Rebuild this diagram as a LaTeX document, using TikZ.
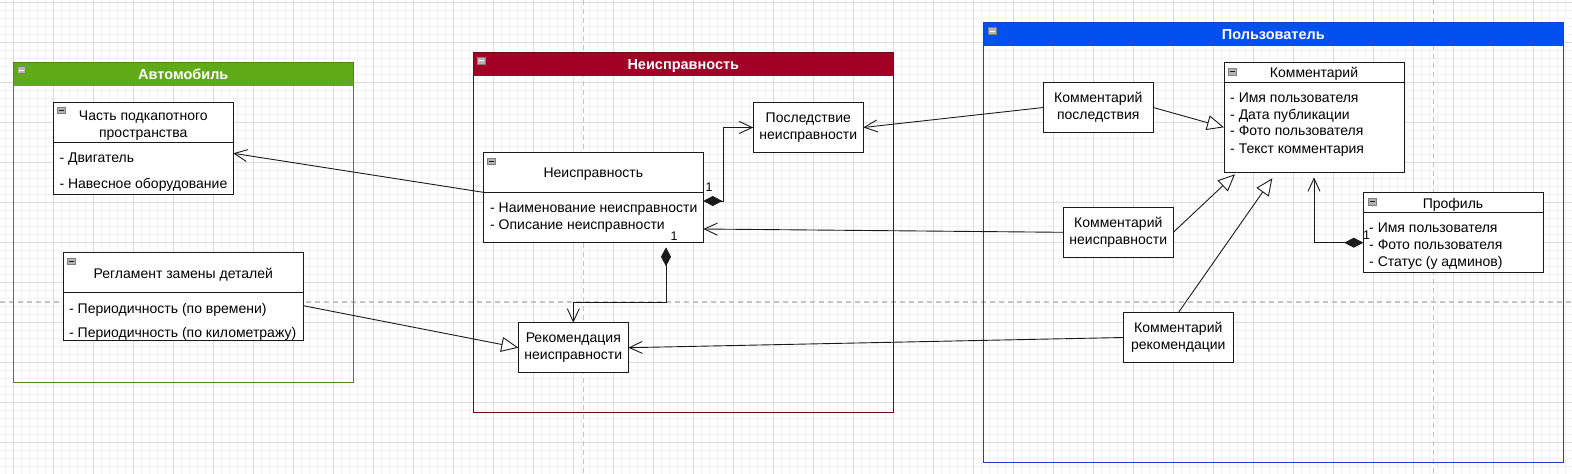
\documentclass[tikz,border=0pt]{standalone}
\usepackage{fontspec}
\setmainfont{Liberation Sans}
\usetikzlibrary{arrows.meta}
\definecolor{gmaj}{HTML}{DCDCDC}
\definecolor{gmin}{HTML}{F2F2F2}
\definecolor{pgbrk}{HTML}{C4C4C4}
\definecolor{cgreen}{HTML}{60A917}
\definecolor{cgreenb}{HTML}{4A8A12}
\definecolor{cred}{HTML}{A20025}
\definecolor{credb}{HTML}{6F0A0A}
\definecolor{cblue}{HTML}{0050EF}
\definecolor{cblueb}{HTML}{1F3FC0}
\definecolor{ink}{HTML}{1A1A1A}
\definecolor{icofill}{HTML}{B4B4B4}
\definecolor{icodraw}{HTML}{808080}
\begin{document}
\begin{tikzpicture}[x=1pt,y=-1pt,
  font=\fontsize{14pt}{16.7pt}\selectfont,
  cls/.style={draw=ink, fill=white, line width=1pt, anchor=north west, inner sep=0pt, outer sep=0pt},
  sbox/.style={draw=ink, fill=white, line width=1pt, inner sep=0pt, outer sep=0pt, align=center, minimum width=110pt, minimum height=50pt},
  ttl/.style={anchor=base, inner sep=0pt},
  attr/.style={anchor=base west, inner sep=0pt},
  htxt/.style={anchor=base, inner sep=0pt, text=white, font=\fontsize{14.5pt}{16.7pt}\selectfont\bfseries},
  conn/.style={draw=ink, line width=0.9pt},
  opn/.style={conn, -{Straight Barb[length=13pt,width=12pt]}},
  gen/.style={conn, -{Triangle[length=17pt,width=15pt,fill=white]}},
  comp/.style={conn, {Diamond[length=19pt,width=10pt]}-{Straight Barb[length=13pt,width=12pt]}},
  mult/.style={inner sep=0.6pt, fill=white, font=\fontsize{12.5pt}{14pt}\selectfont},
  ico/.style={fill=icofill, draw=icodraw, line width=0.6pt}
]
\clip (0,0) rectangle (1572,474);
\fill[white] (0,0) rectangle (1572,474);
% grid
\begin{scope}[shift={(13.3,2.5)}]
  \draw[gmin, line width=0.6pt, step=8pt] (-48,520) grid (1600,-48);
  \draw[gmaj, line width=0.8pt, step=40pt] (-40,520) grid (1600,-40);
\end{scope}
% page breaks
\draw[pgbrk, line width=1.2pt, dash pattern=on 5pt off 4pt] (583.3,0) -- (583.3,474);
\draw[pgbrk, line width=1.2pt, dash pattern=on 5pt off 4pt] (1433.3,0) -- (1433.3,474);
\draw[pgbrk, line width=1.2pt, dash pattern=on 5pt off 4pt] (0,302) -- (1572,302);

% containers
\fill[cgreen] (13.3,62.3) rectangle (353.3,85.7);
\draw[cgreenb, line width=1pt] (13.3,62.3) rectangle (353.3,382.3);
\node[htxt] (hAuto) at (183.3,79) {Автомобиль};
\draw[ico] (17.5,66.5) rectangle (25.5,73.5);
\draw[white, line width=1pt] (19,70) -- (24,70);

\fill[cred] (473.3,52.3) rectangle (893.3,76);
\draw[credb, line width=1pt] (473.3,52.3) rectangle (893.3,412.7);
\node[htxt] (hNeisp) at (683.3,69) {Неисправность};
\draw[ico] (477.5,57) rectangle (485.5,64);
\draw[white, line width=1pt] (479,60.5) -- (484,60.5);

\fill[cblue] (983.4,22.3) rectangle (1563.3,46);
\draw[cblueb, line width=1pt] (983.4,22.3) rectangle (1563.3,462.7);
\node[htxt] (hPolz) at (1273.3,39) {Пользователь};
\draw[ico] (988,27.5) rectangle (996,34.5);
\draw[white, line width=1pt] (989.5,31) -- (994.5,31);

% class: Часть подкапотного пространства
\node[cls, minimum width=180pt, minimum height=92pt] (chast) at (53.3,102.3) {};
\draw[ink, line width=1pt] (chast.west |- 0,142.7) -- (chast.east |- 0,142.7);
\node[ttl] (chastT1) at (143.3,120.3) {Часть подкапотного};
\node[ttl] (chastT2) at (143.3,137.3) {пространства};
\node[attr] (chastA1) at (59.3,162.7) {- Двигатель};
\node[attr] (chastA2) at (59.3,188.3) {- Навесное оборудование};
\draw[ico] (57.5,107) rectangle (65,113.5);
\draw[ink, line width=0.8pt] (59,110.3) -- (63.5,110.3);

% class: Регламент замены деталей
\node[cls, minimum width=240pt, minimum height=87.7pt] (regl) at (63.3,252.3) {};
\draw[ink, line width=1pt] (regl.west |- 0,292.3) -- (regl.east |- 0,292.3);
\node[ttl] (reglT) at (183.3,278.3) {Регламент замены деталей};
\node[attr] (reglA1) at (69,313.3) {- Периодичность (по времени)};
\node[attr] (reglA2) at (69,337.7) {- Периодичность (по километражу)};
\draw[ico] (67.7,258) rectangle (75.2,264.5);
\draw[ink, line width=0.8pt] (69.2,261.3) -- (73.7,261.3);

% class: Неисправность
\node[cls, minimum width=220pt, minimum height=90pt] (neispC) at (483.3,152.3) {};
\draw[ink, line width=1pt] (neispC.west |- 0,192.3) -- (neispC.east |- 0,192.3);
\node[ttl] (neispT) at (593.3,177.7) {Неисправность};
\node[attr] (neispA1) at (490,212.7) {- Наименование неисправности};
\node[attr] (neispA2) at (490,229.3) {- Описание неисправности};
\draw[ico] (487.5,158) rectangle (495,164.5);
\draw[ink, line width=0.8pt] (489,161.3) -- (493.5,161.3);

% simple boxes
\node[sbox, minimum height=49.6pt] (posl) at (808.3,127.5) {Последствие\\неисправности};
\node[sbox] (rek) at (573.3,347.7) {Рекомендация\\неисправности};
\node[sbox, minimum height=49.6pt] (kposl) at (1098.3,107.5) {Комментарий\\последствия};
\node[sbox] (kneisp) at (1118.3,232.3) {Комментарий\\неисправности};
\node[sbox, minimum height=49.6pt] (krek) at (1178.3,337.5) {Комментарий\\рекомендации};

% class: Комментарий
\node[cls, minimum width=180pt, minimum height=109.6pt] (komm) at (1224,62.7) {};
\draw[ink, line width=1pt] (komm.west |- 0,82.7) -- (komm.east |- 0,82.7);
\node[ttl] (kommT) at (1314,77.7) {Комментарий};
\node[attr] (kommA1) at (1230,102.3) {- Имя пользователя};
\node[attr] (kommA2) at (1230,119) {- Дата публикации};
\node[attr] (kommA3) at (1230,135.7) {- Фото пользователя};
\node[attr] (kommA4) at (1230,153.3) {- Текст комментария};
\draw[ico] (1228.5,68.3) rectangle (1236,74.8);
\draw[ink, line width=0.8pt] (1230,71.6) -- (1234.5,71.6);

% class: Профиль
\node[cls, minimum width=179.7pt, minimum height=79.6pt] (prof) at (1363.3,192.7) {};
\draw[ink, line width=1pt] (prof.west |- 0,212.7) -- (prof.east |- 0,212.7);
\node[ttl] (profT) at (1453,208) {Профиль};
\node[attr] (profA1) at (1369,232.3) {- Имя пользователя};
\node[attr] (profA2) at (1369,249.3) {- Фото пользователя};
\node[attr] (profA3) at (1369,266) {- Статус (у админов)};
\draw[ico] (1368.5,198.3) rectangle (1376,204.8);
\draw[ink, line width=0.8pt] (1370,201.6) -- (1374.5,201.6);

% connectors
\draw[opn] (neispC.west |- 0,192.3) -- (chast.east |- 0,153.3);
\draw[gen] (regl.east |- 0,305.7) -- (rek.west);
\draw[comp] (neispC.east |- 0,201) -- (723.3,201) |- (posl.west);
\draw[comp] ([xshift=72.7pt,yshift=-5pt]neispC.south) -- (666,302) -| (rek.north);
\draw[opn] (kposl.west) -- (posl.east);
\draw[gen] (kposl.east) -- (komm.west |- 0,127.3);
\draw[opn] (kneisp.west) -- (neispC.east |- 0,229);
\draw[gen] (kneisp.east) -- ([xshift=11pt,yshift=-2pt]komm.south west);
\draw[gen] (krek.north) -- ([xshift=48.3pt,yshift=-6pt]komm.south west);
\draw[opn] (krek.west) -- (rek.east);
\draw[comp] (prof.west |- 0,242.7) -| ([yshift=-5pt]komm.south);

% multiplicities
\node[mult] (m1) at (709,187.3) {1};
\node[mult] (m2) at (674,236) {1};
\node[mult, fill=none] (m3) at (1366.5,234.7) {1};
\end{tikzpicture}
\end{document}
